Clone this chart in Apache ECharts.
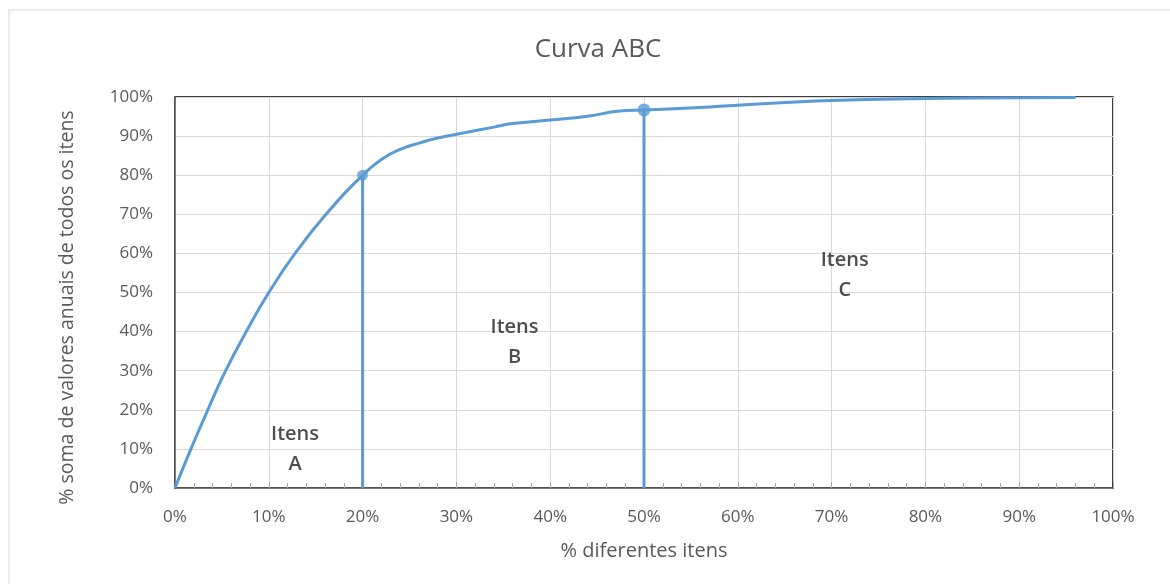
<!DOCTYPE html>
<html>
<head>
<meta charset="utf-8">
<script src="https://cdn.jsdelivr.net/npm/echarts@6/dist/echarts.min.js"></script>
<style>
html,body{margin:0;padding:0;background:#fff;}
#chart{width:1170px;height:584px;}
</style>
</head>
<body>
<div id="chart"></div>
<script>
// % diferentes itens (x) and % cumulative value (y)
const curveX = [0, 1.7, 3.5, 5.4, 7.6, 10, 12.8, 16.1, 20, 22, 24, 26, 28, 31, 34, 36, 40, 44, 47.4, 50, 56, 60, 70, 80, 90, 96];
const curveY = [0, 10, 20, 30, 40, 50, 60, 70, 80, 84, 86.6, 88.2, 89.5, 90.9, 92.3, 93.2, 94.1, 95.1, 96.4, 96.7, 97.3, 97.9, 99.1, 99.6, 99.8, 99.9];
// class boundaries
const cutX = [20, 50];
const cutY = [80, 96.7];
// zone labels
const zoneNames = ['Itens\nA', 'Itens\nB', 'Itens\nC'];
const zoneX = [12.8, 36.2, 71.4];
const zoneY = [10.0, 37.3, 54.5];
const xTicks = [0, 10, 20, 30, 40, 50, 60, 70, 80, 90, 100];
const yTicks = [0, 10, 20, 30, 40, 50, 60, 70, 80, 90, 100];

const FONT = '"Open Sans", "DejaVu Sans", sans-serif';
const BLUE = '#5b9bd5';

const curveData = curveX.map((x, i) => [x, curveY[i]]);
const cutSeries = cutX.map((x, i) => ({
  type: 'line',
  data: [[x, 0], [x, cutY[i]]],
  symbol: 'none',
  lineStyle: { color: BLUE, width: 3 },
  z: 3
}));

const chart = echarts.init(document.getElementById('chart'));
chart.setOption({
  animation: false,
  backgroundColor: '#fff',
  title: {
    text: 'Curva ABC',
    left: 593, top: 32, textAlign: 'center',
    textStyle: { fontFamily: FONT, fontSize: 26, fontWeight: 'normal', color: '#595959' }
  },
  graphic: [{
    type: 'rect',
    shape: { x: 9, y: 10, width: 1200, height: 620 },
    style: { fill: 'none', stroke: '#d9d9d9', lineWidth: 1 },
    silent: true, z: -10
  }],
  grid: {
    left: 175, right: 57, top: 97, bottom: 96,
    show: true, borderColor: '#000', borderWidth: 1.5, backgroundColor: 'transparent'
  },
  xAxis: {
    type: 'value', min: 0, max: 100, interval: 10,
    name: '% diferentes itens', nameLocation: 'middle', nameGap: 53,
    nameTextStyle: { fontFamily: FONT, fontSize: 20, color: '#595959' },
    axisLine: { show: true, lineStyle: { color: '#595959', width: 1.5 } },
    axisTick: { show: true, inside: true, length: 6, lineStyle: { color: '#a6a6a6' } },
    minorTick: { show: true, splitNumber: 5, length: 5, lineStyle: { color: '#a6a6a6' } },
    axisLabel: { fontFamily: FONT, fontSize: 17, color: '#595959', margin: 21,
      formatter: v => v + '%' },
    splitLine: { show: true, lineStyle: { color: '#d9d9d9', width: 1 } }
  },
  yAxis: {
    type: 'value', min: 0, max: 100, interval: 10,
    name: '% soma de valores anuais de todos os itens', nameLocation: 'middle', nameGap: 98,
    nameTextStyle: { fontFamily: FONT, fontSize: 19.5, color: '#595959', padding: [0, 30, 0, 0] },
    axisLine: { show: true, lineStyle: { color: '#595959', width: 1.5 } },
    axisTick: { show: false },
    axisLabel: { fontFamily: FONT, fontSize: 17, color: '#595959', margin: 22,
      formatter: v => v + '%' },
    splitLine: { show: true, lineStyle: { color: '#d9d9d9', width: 1 } }
  },
  series: [
    {
      type: 'line',
      data: curveData,
      smooth: 0.5,
      symbol: 'none',
      lineStyle: { color: BLUE, width: 3 },
      z: 3
    },
    ...cutSeries,
    {
      type: 'scatter',
      data: cutX.map((x, i) => [x, cutY[i]]),
      symbolSize: (v, p) => p.dataIndex === 0 ? 11 : 13,
      itemStyle: { color: BLUE },
      z: 4
    },
    {
      type: 'scatter',
      data: zoneX.map((x, i) => ({ name: zoneNames[i], value: [x, zoneY[i]] })),
      symbolSize: 0,
      label: {
        show: true, position: 'inside',
        formatter: p => p.name,
        fontFamily: FONT, fontSize: 20, fontWeight: 600, color: '#1f1f1f',
        lineHeight: 30, align: 'center', verticalAlign: 'middle'
      },
      z: 5
    }
  ]
});
</script>
</body>
</html>
